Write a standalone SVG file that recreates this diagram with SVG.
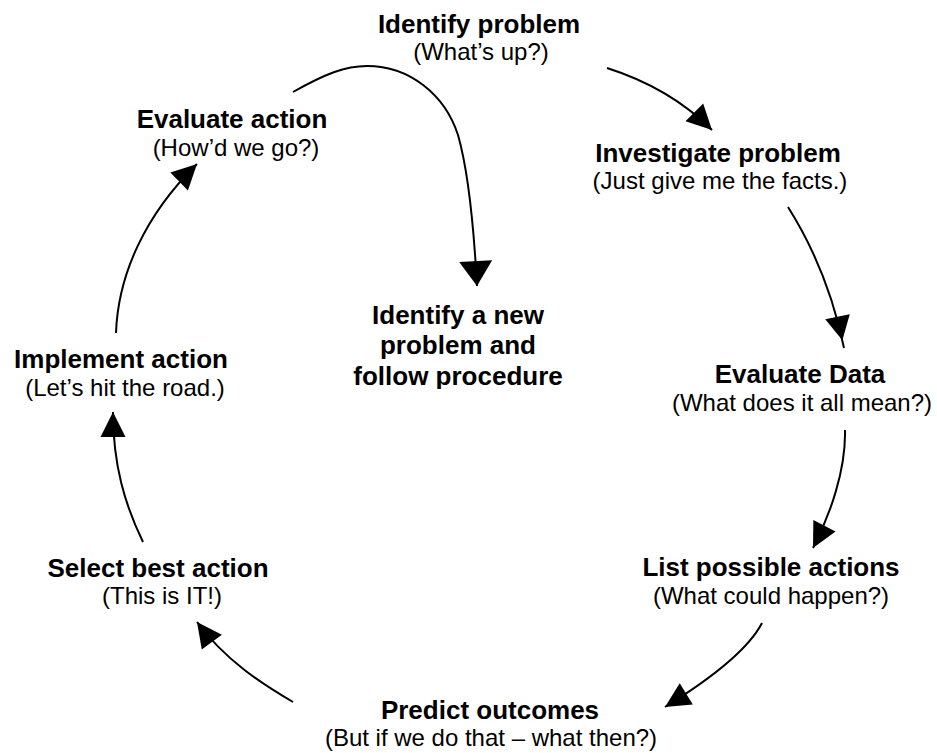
<svg xmlns="http://www.w3.org/2000/svg" width="937" height="753" viewBox="0 0 937 753">
<style>
.t{font-family:"Liberation Sans",Arial,sans-serif;font-weight:bold;font-size:26px;fill:#000;text-anchor:middle}
.s{font-family:"Liberation Sans",Arial,sans-serif;font-size:24px;fill:#000;text-anchor:middle}
.c{fill:none;stroke:#000;stroke-width:2}
</style>
<defs>
<marker id="ah" markerUnits="userSpaceOnUse" markerWidth="30" markerHeight="30" refX="0" refY="0" orient="auto" overflow="visible">
<path d="M0,0 L-25,-12.5 L-25,12.5 Z" fill="#000"/>
</marker>
<marker id="ah2" markerUnits="userSpaceOnUse" markerWidth="30" markerHeight="30" refX="8" refY="0" orient="auto" overflow="visible">
<path d="M0,0 L-24,-12.5 L-24,12.5 Z" fill="#000"/>
</marker>
<marker id="ahw" markerUnits="userSpaceOnUse" markerWidth="30" markerHeight="40" refX="0" refY="0" orient="auto" overflow="visible">
<path d="M0,0 L-25,-16.5 L-25,16.5 Z" fill="#000"/>
</marker>
<clipPath id="clipNew"><rect x="300" y="290" width="330" height="99"/></clipPath>
</defs>
<rect width="937" height="753" fill="#fff"/>
<g id="connectors">
<path class="c" d="M607,68 Q670,88 712,130" marker-end="url(#ah)"/>
<path class="c" d="M788,207 C812,245 832,290 844,348" marker-end="url(#ah2)"/>
<path class="c" d="M845,430 C846,470 830,515 813,548" marker-end="url(#ah)"/>
<path class="c" d="M762,623 C748,650 712,678 665,707" marker-end="url(#ah)"/>
<path class="c" d="M293,702 C262,684 225,660 197,622" marker-end="url(#ah)"/>
<path class="c" d="M143,542 C125,505 113,465 113,412" marker-end="url(#ah)"/>
<path class="c" d="M116,333 C118,275 145,215 197,164" marker-end="url(#ah)"/>
<path class="c" d="M293,92 C325,74 345,66 367,66 C410,66 445,95 458,135 C468,170 474,230 477,286" marker-end="url(#ahw)"/>
</g>
<g id="identify-problem">
<text class="t" x="479" y="33">Identify problem</text>
<text class="s" x="481" y="60">(What’s up?)</text>
</g>
<g id="investigate-problem">
<text class="t" x="718" y="162">Investigate problem</text>
<text class="s" x="720" y="189">(Just give me the facts.)</text>
</g>
<g id="evaluate-data">
<text class="t" x="800" y="383">Evaluate Data</text>
<text class="s" x="802" y="411">(What does it all mean?)</text>
</g>
<g id="list-possible-actions">
<text class="t" x="771" y="576">List possible actions</text>
<text class="s" x="771" y="604">(What could happen?)</text>
</g>
<g id="predict-outcomes">
<text class="t" x="490" y="719">Predict outcomes</text>
<text class="s" x="491" y="746">(But if we do that – what then?)</text>
</g>
<g id="select-best-action">
<text class="t" x="158" y="577">Select best action</text>
<text class="s" x="162" y="604">(This is IT!)</text>
</g>
<g id="implement-action">
<text class="t" x="121" y="368">Implement action</text>
<text class="s" x="125" y="396">(Let’s hit the road.)</text>
</g>
<g id="evaluate-action">
<text class="t" x="232" y="128">Evaluate action</text>
<text class="s" x="236" y="156">(How’d we go?)</text>
</g>
<g id="identify-new-problem" clip-path="url(#clipNew)">
<text class="t" x="458" y="324">Identify a new</text>
<text class="t" x="458" y="354">problem and</text>
<text class="t" x="458" y="385">follow procedure</text>
</g>
</svg>
